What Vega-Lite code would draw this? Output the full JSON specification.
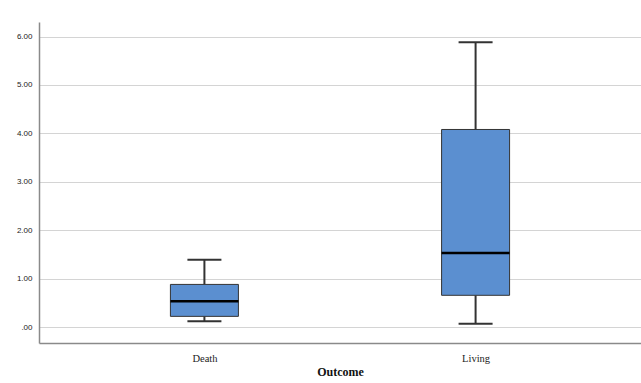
{
  "$schema": "https://vega.github.io/schema/vega-lite/v6.json",
  "width": 602,
  "height": 321,
  "autosize": {"type": "none"},
  "padding": {"left": 39, "top": 22, "right": 0, "bottom": 40},
  "background": "white",
  "config": {"view": {"stroke": null}},
  "data": {
    "values": [
      {"outcome": "Death", "min": 0.12, "q1": 0.22, "median": 0.53, "q3": 0.88, "max": 1.39},
      {"outcome": "Living", "min": 0.07, "q1": 0.655, "median": 1.53, "q3": 4.08, "max": 5.88}
    ]
  },
  "encoding": {
    "x": {
      "field": "outcome",
      "type": "nominal",
      "scale": {"type": "point", "padding": 0.61},
      "axis": {
        "title": "Outcome",
        "titleFont": "Liberation Serif",
        "titleFontSize": 12,
        "titleFontWeight": "bold",
        "titleColor": "#111",
        "titlePadding": 3,
        "labelFont": "Liberation Serif",
        "labelFontSize": 10.5,
        "labelColor": "#222",
        "labelAngle": 0,
        "labelPadding": 10,
        "ticks": false,
        "domainColor": "#8a8a8a",
        "domainWidth": 1.5,
        "grid": false
      }
    }
  },
  "layer": [
    {
      "mark": {"type": "rule", "color": "#333", "strokeWidth": 2},
      "encoding": {
        "y": {
          "field": "min",
          "type": "quantitative",
          "scale": {"domain": [-0.33, 6.3], "nice": false, "zero": false},
          "axis": {
            "title": null,
            "values": [0, 1, 2, 3, 4, 5, 6],
            "labelExpr": "datum.value == 0 ? '.00' : format(datum.value, '.2f')",
            "labelFont": "Liberation Sans",
            "labelFontSize": 8,
            "labelColor": "#222",
            "labelPadding": 7,
            "ticks": false,
            "domainColor": "#8a8a8a",
            "domainWidth": 1.5,
            "grid": true,
            "gridColor": "#d4d4d4",
            "gridWidth": 1
          }
        },
        "y2": {"field": "q1"}
      }
    },
    {
      "mark": {"type": "rule", "color": "#333", "strokeWidth": 2},
      "encoding": {
        "y": {"field": "q3", "type": "quantitative"},
        "y2": {"field": "max"}
      }
    },
    {
      "mark": {"type": "bar", "size": 68, "fill": "#5b8fd0", "stroke": "#333", "strokeWidth": 1},
      "encoding": {
        "y": {"field": "q1", "type": "quantitative"},
        "y2": {"field": "q3"}
      }
    },
    {
      "mark": {"type": "tick", "size": 68, "thickness": 2.5, "color": "#000", "opacity": 1},
      "encoding": {
        "y": {"field": "median", "type": "quantitative"}
      }
    },
    {
      "mark": {"type": "tick", "size": 34, "thickness": 2, "color": "#333", "opacity": 1},
      "encoding": {
        "y": {"field": "min", "type": "quantitative"}
      }
    },
    {
      "mark": {"type": "tick", "size": 34, "thickness": 2, "color": "#333", "opacity": 1},
      "encoding": {
        "y": {"field": "max", "type": "quantitative"}
      }
    }
  ]
}
